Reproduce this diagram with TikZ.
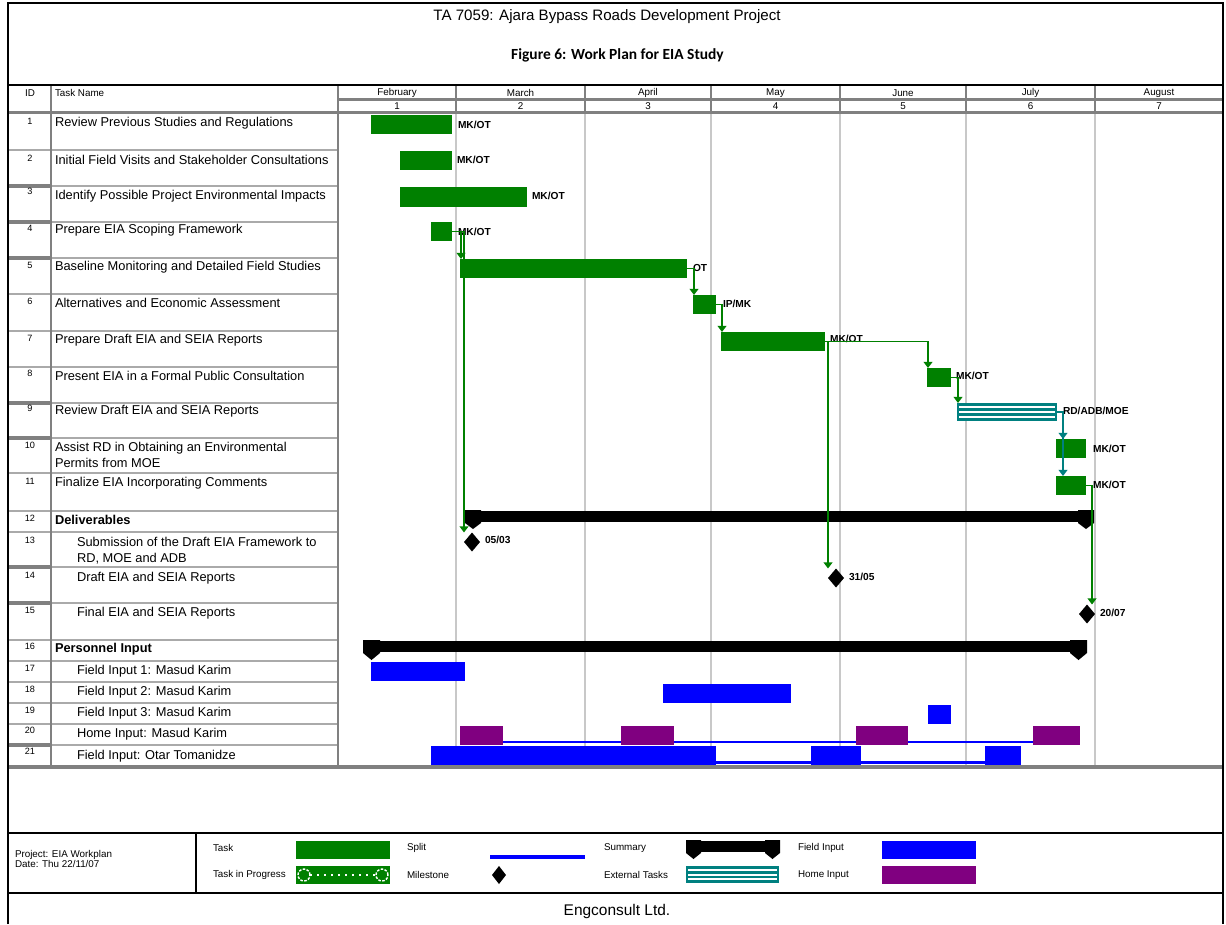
\documentclass[tikz,border=0pt]{standalone}
\usepackage{fontspec}
\setmainfont{Liberation Sans}
\newfontfamily\calib{Carlito}
\usetikzlibrary{calc,arrows.meta,shapes.geometric}
\definecolor{ggreen}{RGB}{0,128,0}
\definecolor{fblue}{RGB}{0,0,255}
\definecolor{hpurple}{RGB}{128,0,128}
\definecolor{eteal}{RGB}{0,128,128}
\definecolor{gridc}{RGB}{200,200,200}
\definecolor{tline}{RGB}{170,170,170}
\definecolor{tdark}{RGB}{128,128,128}
\newcommand\gbox[6]{\node[#6,anchor=north west,minimum width={(#4-#2)*0.02cm},minimum height={(#5-#3)*0.02cm}] (#1) at (#2,#3) {};}
\begin{document}
\begin{tikzpicture}[x=0.02cm,y=-0.02cm,
 every node/.style={inner sep=0pt,outer sep=0pt},
 taskbar/.style={fill=ggreen},
 fieldbar/.style={fill=fblue},
 homebar/.style={fill=hpurple},
 extbar/.style={fill=eteal},
 sumbar/.style={fill=black},
 ms/.style={diamond,fill=black,minimum width=0.32cm,minimum height=0.38cm},
 lbl/.style={font=\fontsize{5.8}{7}\selectfont\bfseries,anchor=west},
 tname/.style={font=\fontsize{7.3}{9}\selectfont,anchor=west,align=left},
 tbold/.style={tname,font=\fontsize{7.3}{9}\selectfont\bfseries},
 tid/.style={font=\fontsize{5.2}{6}\selectfont},
 hdr/.style={font=\fontsize{5.6}{6}\selectfont},
 leg/.style={font=\fontsize{5.6}{6}\selectfont,anchor=west},
 conn/.style={draw=ggreen,line width=0.85pt,-{Triangle[width=5pt,length=3.5pt]}},
 connt/.style={conn,draw=eteal},
 gridline/.style={gridc,line width=0.9pt},
 split/.style={fblue,line width=1.3pt},
]
\useasboundingbox (0,0) rectangle (1226,924);
\fill[white] (0,0) rectangle (1226,924);

% ---- grid and table lines
\foreach \x in {456,585,711,840,966,1095} \draw[gridline] (\x,113) -- (\x,767);
\foreach \y in {150,186,222,258,294,331,367,403,438,473,511,532,567,603,640,661,682,703,724,745}
  \draw[tline,line width=0.8pt] (8,\y) -- (338,\y);
\foreach \y in {186,222,258,403,438,567,603,745}
  \draw[tdark,line width=1.8pt] (8,\y) -- (51,\y);
\draw[tdark,line width=1pt] (51,85) -- (51,767);
\draw[tdark,line width=1pt] (338,85) -- (338,767);
\draw[tdark,line width=1.4pt] (338,99.5) -- (1223,99.5);
\draw[tdark,line width=1.6pt] (8,112.5) -- (1223,112.5);
\foreach \x in {456,585,711,840,966,1095} \draw[tdark,line width=0.9pt] (\x,86) -- (\x,112);
\draw[tdark,line width=2pt] (8,767) -- (1223,767);

% ---- frame
\draw[line width=1.6pt] (8,924) -- (8,3) -- (1223,3) -- (1223,924);
\draw[line width=1.2pt] (8,85) -- (1223,85);
\draw[line width=1.2pt] (8,833) -- (1223,833);
\draw[line width=1.2pt] (8,893) -- (1223,893);
\draw[line width=1pt] (196,833) -- (196,893);

% ---- titles
\node[font=\fontsize{8.6}{10}\selectfont] (title) at (607,17) {TA 7059: Ajara Bypass Roads Development Project};
\node[font=\calib\bfseries\fontsize{8.8}{10}\selectfont] (fig) at (617.5,55) {Figure 6: Work Plan for EIA Study};
\node[font=\fontsize{8.8}{10}\selectfont] (footer) at (617,911) {Engconsult Ltd.};

% ---- header
\node[hdr] (hid) at (30,93) {ID};
\node[hdr,anchor=west] (hname) at (55,93) {Task Name};
\foreach \n/\c/\m in {1/397/February,2/520.5/March,3/648/April,4/775.5/May,5/903/June,6/1030.5/July,7/1159/August}{
  \node[hdr] (mon\n) at (\c,93) {\m};
  \node[hdr] (wk\n) at (\c,106) {\n};
}

% ---- IDs
\foreach \i/\y in {1/121.7,2/158.3,3/191.7,4/228.3,5/265,6/301.7,7/338.3,8/373.3,9/408.3,10/445,11/481.7,12/518.3,13/540,14/575,15/610,16/646.7,17/668.3,18/689.3,19/710,20/730,21/751.7}
  \node[tid] (id\i) at (30,\y) {\i};

% ---- task names
\node[tname] (n1) at (55,123.3) {Review Previous Studies and Regulations};
\node[tname] (n2) at (55,160) {Initial Field Visits and Stakeholder Consultations};
\node[tname] (n3) at (55,196) {Identify Possible Project Environmental Impacts};
\node[tname] (n4) at (55,230) {Prepare EIA Scoping Framework};
\node[tname] (n5) at (55,266.7) {Baseline Monitoring and Detailed Field Studies};
\node[tname] (n6) at (55,303) {Alternatives and Economic Assessment};
\node[tname] (n7) at (55,340) {Prepare Draft EIA and SEIA Reports};
\node[tname] (n8) at (55,376) {Present EIA in a Formal Public Consultation};
\node[tname] (n9) at (55,411) {Review Draft EIA and SEIA Reports};
\node[tname] (n10) at (55,455) {Assist RD in Obtaining an Environmental\\Permits from MOE};
\node[tname] (n11) at (55,482.7) {Finalize EIA Incorporating Comments};
\node[tbold] (n12) at (55,520) {Deliverables};
\node[tname] (n13) at (77,551) {Submission of the Draft EIA Framework to\\RD, MOE and ADB};
\node[tname] (n14) at (77,578) {Draft EIA and SEIA Reports};
\node[tname] (n15) at (77,613) {Final EIA and SEIA Reports};
\node[tbold] (n16) at (55,649) {Personnel Input};
\node[tname] (n17) at (77,671) {Field Input 1: Masud Karim};
\node[tname] (n18) at (77,691.7) {Field Input 2: Masud Karim};
\node[tname] (n19) at (77,712.7) {Field Input 3: Masud Karim};
\node[tname] (n20) at (77,734) {Home Input: Masud Karim};
\node[tname] (n21) at (77,756) {Field Input: Otar Tomanidze};

% ---- task bars
\gbox{t1}{371}{115}{452}{134}{taskbar}
\gbox{t2}{400}{151}{452}{170}{taskbar}
\gbox{t3}{400}{187}{527}{207}{taskbar}
\gbox{t4}{431}{222}{452}{241}{taskbar}
\gbox{t5}{460}{259}{687}{278}{taskbar}
\gbox{t6}{693}{295}{716}{314}{taskbar}
\gbox{t7}{721}{332}{825}{351}{taskbar}
\gbox{t8}{927}{368}{951}{387}{taskbar}
\gbox{t9}{957}{403}{1057}{421}{extbar}
\foreach \dy in {4.3,9.3,14.3}
  \draw[white,line width=1.3pt] ($(t9.north west)+(2,\dy)$) -- ($(t9.north east)+(-2,\dy)$);
\gbox{t10}{1056}{439}{1086}{458}{taskbar}
\gbox{t11}{1056}{476}{1086}{495}{taskbar}

% ---- bar labels
\node[lbl] (l1) at ($(t1.east)+(6,0)$) {MK/OT};
\node[lbl] (l2) at ($(t2.east)+(5,-1)$) {MK/OT};
\node[lbl] (l3) at ($(t3.east)+(5,-1)$) {MK/OT};
\node[lbl] (l4) at ($(t4.east)+(6,0)$) {MK/OT};
\node[lbl] (l5) at ($(t5.east)+(6,-1)$) {OT};
\node[lbl] (l6) at ($(t6.east)+(7,-1)$) {IP/MK};
\node[lbl] (l7) at ($(t7.east)+(5,-3)$) {MK/OT};
\node[lbl] (l8) at ($(t8.east)+(5,-2)$) {MK/OT};
\node[lbl] (l9) at ($(t9.east)+(6,-1)$) {RD/ADB/MOE};
\node[lbl] (l10) at ($(t10.east)+(7,0)$) {MK/OT};
\node[lbl] (l11) at ($(t11.east)+(7,-1)$) {MK/OT};

% ---- summaries
\gbox{s12}{465}{511}{1094}{522}{sumbar}
\fill (465,510) -- (481,510) -- (481,523) -- (473,529) -- (465,523) -- cycle;
\fill (1078,510) -- (1094,510) -- (1094,523) -- (1086,529) -- (1078,523) -- cycle;
\gbox{s16}{363}{641}{1087}{652}{sumbar}
\fill (363,640) -- (380,640) -- (380,653) -- (371.5,660) -- (363,653) -- cycle;
\fill (1070,640) -- (1087,640) -- (1087,653) -- (1078.5,660) -- (1070,653) -- cycle;

% ---- milestones
\node[ms] (m13) at (472,542) {};
\node[ms] (m14) at (836,578) {};
\node[ms] (m15) at (1087,614) {};
\node[lbl] (lm13) at ($(m13.center)+(13,-2)$) {05/03};
\node[lbl] (lm14) at ($(m14.center)+(13,-1)$) {31/05};
\node[lbl] (lm15) at ($(m15.center)+(13,-1)$) {20/07};

% ---- personnel
\gbox{f17}{371}{662}{465}{681}{fieldbar}
\gbox{f18}{663}{684}{791}{703}{fieldbar}
\gbox{f19}{928}{705}{951}{724}{fieldbar}
\gbox{h20a}{460}{726}{503}{745}{homebar}
\gbox{h20b}{621}{726}{674}{745}{homebar}
\gbox{h20c}{856}{726}{908}{745}{homebar}
\gbox{h20d}{1033}{726}{1080}{745}{homebar}
\gbox{f21a}{431}{746}{716}{765}{fieldbar}
\gbox{f21b}{811}{746}{861}{765}{fieldbar}
\gbox{f21c}{985}{746}{1021}{765}{fieldbar}
\draw[split] ($(h20a.south east)+(0,-3)$) -- ($(h20b.south west)+(0,-3)$);
\draw[split] ($(h20b.south east)+(0,-3)$) -- ($(h20c.south west)+(0,-3)$);
\draw[split] ($(h20c.south east)+(0,-3)$) -- ($(h20d.south west)+(0,-3)$);
\draw[split] ($(f21a.south east)+(0,-2.5)$) -- ($(f21b.south west)+(0,-2.5)$);
\draw[split] ($(f21b.south east)+(0,-2.5)$) -- ($(f21c.south west)+(0,-2.5)$);

% ---- connectors
\draw[conn] (t4.east) -| ($(t5.north west)+(1,0)$);
\draw[conn] (t4.east) -| ($(m13.north)+(-8,0)$);
\draw[conn] (t5.east) -| ($(t6.north west)+(1,0)$);
\draw[conn] (t6.east) -| ($(t7.north west)+(1,0)$);
\draw[conn] (t7.east) -| ($(t8.north west)+(1,0)$);
\draw[conn] (t7.east) -| ($(m14.north)+(-8,0)$);
\draw[conn] (t8.east) -| ($(t9.north west)+(1,0)$);
\draw[connt] (t9.east) -| ($(t10.north west)+(7,0)$);
\draw[connt] (t9.east) -| ($(t11.north west)+(7,0)$);
\draw[conn] (t11.east) -| ($(m15.north)+(5,0)$);

% ---- legend
\node[leg] (proj) at (15,855) {Project: EIA Workplan};
\node[leg] (date) at (15,864) {Date: Thu 22/11/07};
\node[leg] (kt) at (213,848) {Task};
\node[leg] (ktp) at (213,875) {Task in Progress};
\node[leg] (ks) at (407,848) {Split};
\node[leg] (km) at (407,875) {Milestone};
\node[leg] (ksu) at (604,848) {Summary};
\node[leg] (ke) at (604,875) {External Tasks};
\node[leg] (kf) at (798,848) {Field Input};
\node[leg] (kh) at (798,875) {Home Input};
\gbox{gt}{296}{841}{390}{859}{taskbar}
\gbox{gtp}{296}{866}{390}{884}{taskbar}
\draw[white,line width=0.7pt,dash pattern=on 1pt off 3pt] ($(gtp.west)+(14,0)$) -- ($(gtp.east)+(-14,0)$);
\draw[white,line width=0.8pt,dash pattern=on 1.5pt off 0.8pt] ($(gtp.west)+(8,0)$) circle[radius=0.12cm];
\draw[white,line width=0.8pt,dash pattern=on 1.5pt off 0.8pt] ($(gtp.east)+(-8,0)$) circle[radius=0.12cm];
\coordinate (gs1) at (490,857);
\coordinate (gs2) at (585,857);
\draw[split,line width=1.8pt] (gs1) -- (gs2);
\node[ms,minimum width=0.28cm,minimum height=0.36cm] (gm) at (499,875) {};
\gbox{gsu}{686}{841}{780}{852}{sumbar}
\fill (686,840) -- (701,840) -- (701,853) -- (693.5,859) -- (686,853) -- cycle;
\fill (765,840) -- (780,840) -- (780,853) -- (772.5,859) -- (765,853) -- cycle;
\gbox{ge}{686}{866}{779}{883}{extbar}
\foreach \dy in {4,8.7,13.4}
  \draw[white,line width=1.2pt] ($(ge.north west)+(2,\dy)$) -- ($(ge.north east)+(-2,\dy)$);
\gbox{gf}{882}{841}{976}{859}{fieldbar}
\gbox{gh}{882}{866}{976}{884}{homebar}
\end{tikzpicture}
\end{document}
